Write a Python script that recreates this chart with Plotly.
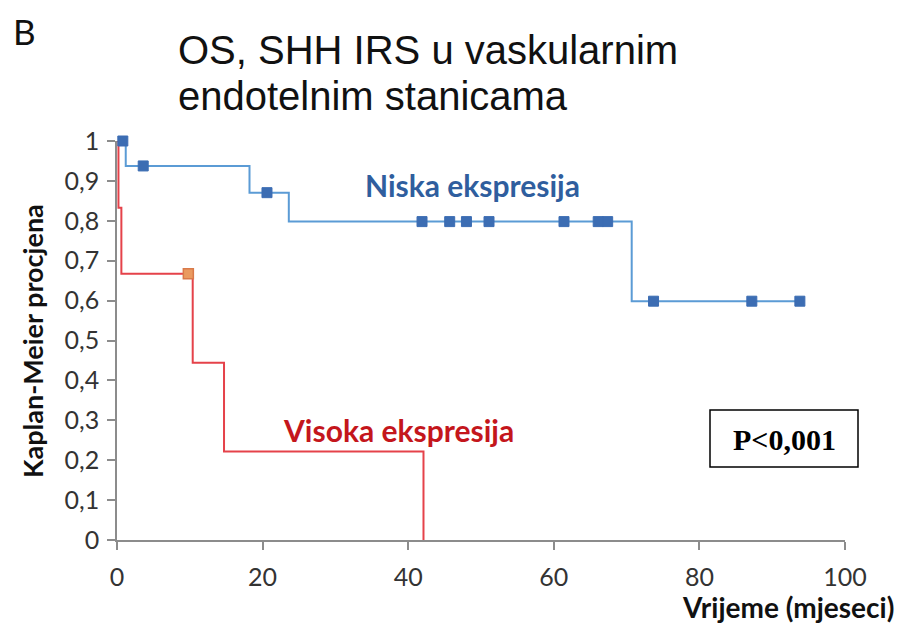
import plotly.graph_objects as go

# Kaplan-Meier step data
blue_times = [0, 1.2, 18.2, 23.6, 70.7, 93.8]
blue_surv = [1.0, 0.9375, 0.8705, 0.798, 0.5985, 0.5985]
blue_censor_t = [0.8, 3.6, 20.6, 41.9, 45.7, 48.0, 51.1, 61.4, 66.1, 67.4, 73.7, 87.2, 93.8]

red_times = [0, 0.2, 0.6, 10.4, 14.7, 42.1]
red_surv = [1.0, 0.833, 0.667, 0.444, 0.222, 0.0]
red_censor_t = [9.8]

x_ticks = [0, 20, 40, 60, 80, 100]
x_ticktext = ["0", "20", "40", "60", "80", "100"]
y_ticks = [0, 0.1, 0.2, 0.3, 0.4, 0.5, 0.6, 0.7, 0.8, 0.9, 1.0]
y_ticktext = ["0", "0,1", "0,2", "0,3", "0,4", "0,5", "0,6", "0,7", "0,8", "0,9", "1"]


def step_value(times, surv, t):
    v = surv[0]
    for ti, si in zip(times, surv):
        if ti <= t:
            v = si
    return v


blue_censor_y = [step_value(blue_times, blue_surv, t) for t in blue_censor_t]
red_censor_y = [step_value(red_times, red_surv, t) for t in red_censor_t]

fig = go.Figure()
fig.add_trace(go.Scatter(x=blue_times, y=blue_surv, mode="lines", line_shape="hv",
                         line=dict(color="#5B9BD5", width=2), showlegend=False, cliponaxis=False))
fig.add_trace(go.Scatter(x=red_times, y=red_surv, mode="lines", line_shape="hv",
                         line=dict(color="#E5424A", width=2), showlegend=False, cliponaxis=False))
fig.add_trace(go.Scatter(x=blue_censor_t, y=blue_censor_y, mode="markers",
                         marker=dict(symbol="square", size=10, color="#3C6DB3",
                                     line=dict(color="#3C6DB3", width=1)),
                         showlegend=False, cliponaxis=False))
fig.add_trace(go.Scatter(x=red_censor_t, y=red_censor_y, mode="markers",
                         marker=dict(symbol="square", size=10, color="#EA9A60",
                                     line=dict(color="#D97A4A", width=1.5)),
                         showlegend=False, cliponaxis=False))

axis_col = "#8C8C8C"
fig.update_xaxes(range=[0, 100], tickvals=x_ticks, ticktext=x_ticktext, showgrid=False,
                 zeroline=False, showline=True, linecolor=axis_col, linewidth=1.5,
                 ticks="outside", ticklen=8, tickcolor=axis_col, tickwidth=1.5,
                 ticklabelstandoff=6,
                 tickfont=dict(family="Lato", size=25, color="#333333"))
fig.update_yaxes(range=[0, 1], tickvals=y_ticks, ticktext=y_ticktext, showgrid=False,
                 zeroline=False, showline=True, linecolor=axis_col, linewidth=1.5,
                 ticks="outside", ticklen=8, tickcolor=axis_col, tickwidth=1.5,
                 ticklabelstandoff=3,
                 tickfont=dict(family="Lato", size=25, color="#333333"))


def py(pixel_y):
    return (540 - pixel_y) / 399


def px(pixel_x):
    return (pixel_x - 117) / 728


ann = [
    dict(text="B", x=px(11), y=py(31), xanchor="left", yanchor="middle",
         font=dict(family="Lato", size=35, color="#111111")),
    dict(text="OS, SHH IRS u vaskularnim", x=px(176), y=py(50),
         xanchor="left", yanchor="middle",
         font=dict(family="Liberation Sans", size=40, color="#111111")),
    dict(text="endotelnim stanicama", x=px(176), y=py(96),
         xanchor="left", yanchor="middle",
         font=dict(family="Liberation Sans", size=40, color="#111111")),
    dict(text="<b>Niska ekspresija</b>", x=px(472), y=py(185), xanchor="center", yanchor="middle",
         font=dict(family="Lato", size=30, color="#2F5E9E")),
    dict(text="<b>Visoka ekspresija</b>", x=px(398), y=py(430), xanchor="center", yanchor="middle",
         font=dict(family="Lato", size=30, color="#C4161C")),
    dict(text="<b>P<0,001</b>", x=px(784), y=py(439), xanchor="center", yanchor="middle",
         font=dict(family="Liberation Serif", size=30, color="#000000")),
    dict(text="<b>Kaplan-Meier procjena</b>", x=px(32), y=py(341), xanchor="center", yanchor="middle",
         textangle=-90, font=dict(family="Lato", size=27, color="#111111")),
    dict(text="<b>Vrijeme (mjeseci)</b>", x=px(896), y=py(607), xanchor="right", yanchor="middle",
         font=dict(family="Lato", size=28, color="#111111")),
]
for a in ann:
    a.update(xref="paper", yref="paper", showarrow=False)

fig.update_layout(
    width=898, height=624, autosize=False,
    margin=dict(l=117, r=53, t=141, b=84),
    paper_bgcolor="white", plot_bgcolor="white",
    annotations=ann,
    shapes=[dict(type="rect", xref="paper", yref="paper", x0=px(710), x1=px(858),
                 y0=py(467), y1=py(410), line=dict(color="#000000", width=1.5))],
)

fig.write_html("out.html", config={"displayModeBar": False},
               post_script="document.body.style.margin='0';")
